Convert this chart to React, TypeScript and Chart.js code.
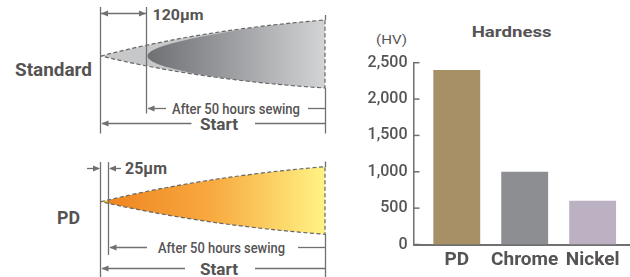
import React, { useEffect, useRef } from "react";
import { Chart, registerables } from "chart.js";

Chart.register(...registerables);

// ---- data ----
const categories = ["PD", "Chrome", "Nickel"];
const hardness = [2400, 1000, 600];
const barColors = ["#a78f66", "#8d8e92", "#bcb1c3"];
const yMin = 0;
const yMax = 2500;
const yStep = 500;

const TEXT = "#555353";
const LINE = "#707070";
const FONT = "Roboto, 'DejaVu Sans', sans-serif";

function ArrowL({ x, y }: { x: number; y: number }) {
  return <polygon points={`${x},${y} ${x + 7},${y - 3} ${x + 7},${y + 3}`} fill={LINE} />;
}
function ArrowR({ x, y }: { x: number; y: number }) {
  return <polygon points={`${x},${y} ${x - 7},${y - 3} ${x - 7},${y + 3}`} fill={LINE} />;
}

function Txt(p: { x: number; y: number; w: number; size: number; weight?: number; children: string }) {
  return (
    <text
      x={p.x}
      y={p.y}
      textLength={p.w}
      lengthAdjust="spacingAndGlyphs"
      fontFamily={FONT}
      fontSize={p.size}
      fontWeight={p.weight ?? 400}
      fill={TEXT}
    >
      {p.children}
    </text>
  );
}

function Diagram() {
  const sw = 1.3;
  const stdOuter = "M101,56 Q200,30 325,20 L325,88 Q200,80 101,56 Z";
  const stdInner =
    "M147.5,56 C147.5,46 200,35 276,24.6 Q300,22 325,20 L325,88 Q300,86.4 276,84.2 C200,77 147.5,66 147.5,56 Z";
  const pdOuter = "M101,201.7 Q203,176.7 325,166.7 L325,234.3 Q203,225 101,201.7 Z";
  return (
    <svg width={630} height={277} style={{ position: "absolute", left: 0, top: 0 }}>
      <defs>
        <linearGradient id="stdInner" gradientUnits="userSpaceOnUse" x1={147} y1={0} x2={325} y2={0}>
          <stop offset="0" stopColor="#6f7073" />
          <stop offset="0.45" stopColor="#9a9b9e" />
          <stop offset="1" stopColor="#d3d4d6" />
        </linearGradient>
        <linearGradient id="pdGrad" gradientUnits="userSpaceOnUse" x1={101} y1={0} x2={325} y2={0}>
          <stop offset="0" stopColor="#f6c417" />
          <stop offset="0.03" stopColor="#f6c417" />
          <stop offset="0.035" stopColor="#ef8520" />
          <stop offset="0.5" stopColor="#f8aa40" />
          <stop offset="1" stopColor="#fff385" />
        </linearGradient>
        <clipPath id="stdClip">
          <path d={stdOuter} />
        </clipPath>
      </defs>

      {/* Standard */}
      <Txt x={15} y={76} w={77} size={18} weight={700}>Standard</Txt>
      <path d={stdOuter} fill="#c7c8ca" />
      <path d={stdInner} fill="url(#stdInner)" clipPath="url(#stdClip)" />
      <path d={stdOuter} fill="none" stroke="#666" strokeWidth={1.2} strokeDasharray="4 2.5" />
      <line x1={100.5} y1={7} x2={100.5} y2={133.5} stroke={LINE} strokeWidth={sw} />
      <line x1={146.5} y1={7} x2={146.5} y2={113.5} stroke={LINE} strokeWidth={sw} />
      <line x1={325.5} y1={15} x2={325.5} y2={20} stroke={LINE} strokeWidth={sw} />
      <line x1={325.5} y1={88} x2={325.5} y2={133.5} stroke={LINE} strokeWidth={sw} />
      <line x1={101} y1={13.5} x2={146} y2={13.5} stroke={LINE} strokeWidth={sw} />
      <ArrowL x={101} y={13.5} />
      <ArrowR x={146} y={13.5} />
      <Txt x={152.5} y={19.5} w={51} size={15} weight={700}>120µm</Txt>
      <line x1={148} y1={108.5} x2={166} y2={108.5} stroke={LINE} strokeWidth={sw} />
      <ArrowL x={147.5} y={108.5} />
      <Txt x={172} y={114} w={128} size={15} weight={500}>After 50 hours sewing</Txt>
      <line x1={308} y1={108.5} x2={325.5} y2={108.5} stroke={LINE} strokeWidth={sw} />
      <line x1={102} y1={123.5} x2={191.5} y2={123.5} stroke={LINE} strokeWidth={sw} />
      <ArrowL x={101.5} y={123.5} />
      <Txt x={200} y={129.5} w={38} size={17} weight={700}>Start</Txt>
      <line x1={255} y1={123.5} x2={325.5} y2={123.5} stroke={LINE} strokeWidth={sw} />

      {/* PD */}
      <Txt x={57} y={223.5} w={23} size={18} weight={700}>PD</Txt>
      <path d={pdOuter} fill="url(#pdGrad)" />
      <path d={pdOuter} fill="none" stroke="#666" strokeWidth={1.2} strokeDasharray="4 2.5" />
      <line x1={100.5} y1={162} x2={100.5} y2={277} stroke={LINE} strokeWidth={sw} />
      <line x1={108.5} y1={162} x2={108.5} y2={255} stroke={LINE} strokeWidth={sw} />
      <line x1={325.5} y1={161.5} x2={325.5} y2={167} stroke={LINE} strokeWidth={sw} />
      <line x1={325.5} y1={234} x2={325.5} y2={277} stroke={LINE} strokeWidth={sw} />
      <line x1={87} y1={168.5} x2={99} y2={168.5} stroke={LINE} strokeWidth={sw} />
      <ArrowR x={100} y={168.5} />
      <line x1={110} y1={168.5} x2={121} y2={168.5} stroke={LINE} strokeWidth={sw} />
      <ArrowL x={109} y={168.5} />
      <Txt x={125} y={173.5} w={42} size={16} weight={700}>25µm</Txt>
      <line x1={110} y1={247.5} x2={147} y2={247.5} stroke={LINE} strokeWidth={sw} />
      <ArrowL x={109.5} y={247.5} />
      <Txt x={158} y={253} w={127} size={15} weight={500}>After 50 hours sewing</Txt>
      <line x1={298} y1={247.5} x2={325.5} y2={247.5} stroke={LINE} strokeWidth={sw} />
      <line x1={102} y1={268.5} x2={185} y2={268.5} stroke={LINE} strokeWidth={sw} />
      <ArrowL x={101.5} y={268.5} />
      <Txt x={200} y={274.5} w={38} size={17} weight={700}>Start</Txt>
      <line x1={255} y1={268.5} x2={325.5} y2={268.5} stroke={LINE} strokeWidth={sw} />

      {/* chart title and unit */}
      <Txt x={471.7} y={37.3} w={80} size={15} weight={700}>Hardness</Txt>
      <Txt x={376} y={43.5} w={31} size={12.5}>(HV)</Txt>
    </svg>
  );
}

const innerTicks = {
  id: "innerTicks",
  afterDatasetsDraw(chart: any) {
    const y = chart.scales.y;
    const ctx = chart.ctx;
    const left = chart.chartArea.left;
    ctx.save();
    ctx.strokeStyle = LINE;
    ctx.lineWidth = 1.5;
    y.ticks.forEach((t: any) => {
      const py = y.getPixelForValue(t.value);
      ctx.beginPath();
      ctx.moveTo(left, py);
      ctx.lineTo(left + 6, py);
      ctx.stroke();
    });
    ctx.restore();
  },
};

export default function App() {
  const ref = useRef<HTMLCanvasElement | null>(null);
  useEffect(() => {
    if (!ref.current) return;
    const chart = new Chart(ref.current, {
      type: "bar",
      data: {
        datasets: [
          {
            data: categories.map((_, i) => ({ x: i, y: hardness[i] })),
            backgroundColor: barColors,
            borderWidth: 0,
            barPercentage: 0.69,
            categoryPercentage: 1,
          },
        ],
      },
      options: {
        animation: false,
        responsive: false,
        maintainAspectRatio: false,
        layout: { padding: { top: 62.7, left: 0, right: 0, bottom: 0 } },
        plugins: { legend: { display: false }, tooltip: { enabled: false }, title: { display: false } },
        scales: {
          x: {
            type: "linear",
            min: -0.637,
            max: 2.55,
            offset: false,
            z: 1,
            afterBuildTicks: (s: any) => {
              s.ticks = categories.map((_, i) => ({ value: i }));
            },
            afterFit: (s: any) => {
              s.height = 32.5;
            },
            ticks: {
              callback: (v: any) => categories[v as number] ?? "",
              autoSkip: false,
              maxRotation: 0,
              padding: 4,
              color: TEXT,
              font: { family: FONT, size: 19, weight: "bold" },
            },
            grid: { display: false, drawTicks: false },
            border: { color: LINE, width: 2 },
          },
          y: {
            min: yMin,
            max: yMax,
            afterFit: (s: any) => {
              s.width = 73.5;
            },
            ticks: {
              stepSize: yStep,
              padding: 6,
              color: TEXT,
              font: { family: FONT, size: 16, weight: 500 },
              callback: (v: any) => Number(v).toLocaleString("en-US"),
            },
            grid: { display: false, drawTicks: false },
            border: { color: LINE, width: 1.5 },
          },
        },
      },
      plugins: [innerTicks],
    } as any);
    return () => chart.destroy();
  }, []);
  return (
    <div style={{ position: "fixed", left: 0, top: 0, width: 630, height: 277, background: "#fff" }}>
      <Diagram />
      <canvas
        ref={ref}
        width={290}
        height={277}
        style={{ position: "absolute", left: 340, top: 0, width: 290, height: 277 }}
      />
    </div>
  );
}
